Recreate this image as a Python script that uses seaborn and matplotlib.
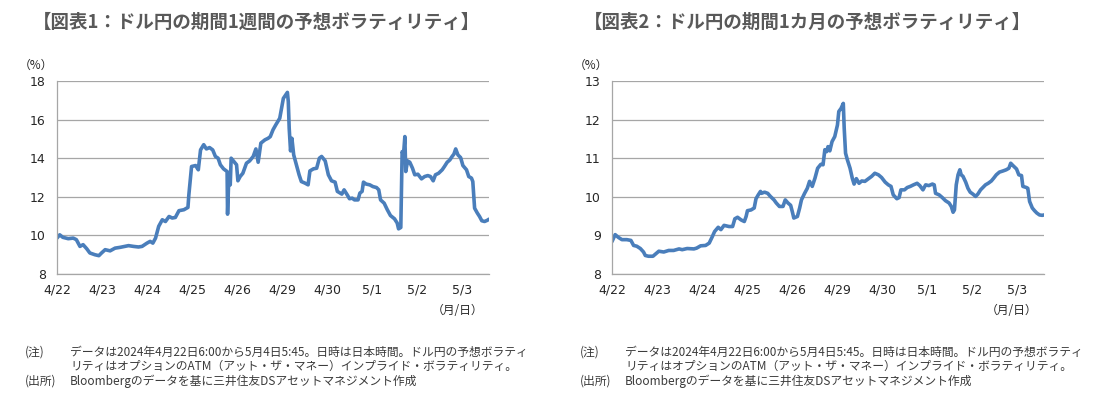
import matplotlib
matplotlib.use("Agg")
import matplotlib.pyplot as plt
import seaborn as sns
import pandas as pd

# ---- data (elapsed trading days since 4/22 6:00 JST, implied vol %) ----
tick_labels = ["4/22", "4/23", "4/24", "4/25", "4/26", "4/29", "4/30", "5/1", "5/2", "5/3"]

week_days = [0.00, 0.06, 0.13, 0.25, 0.36, 0.43, 0.51, 0.58, 0.66, 0.73, 0.84, 0.93, 0.99,
             1.07, 1.18, 1.29, 1.40, 1.51, 1.59, 1.70, 1.81, 1.89, 2.00, 2.07, 2.13, 2.19,
             2.26, 2.34, 2.41, 2.49, 2.56, 2.63, 2.71, 2.82, 2.91, 2.93, 2.99, 3.08, 3.14,
             3.19, 3.26, 3.32, 3.39, 3.46, 3.52, 3.58, 3.63, 3.70, 3.78, 3.79, 3.82, 3.85,
             3.87, 3.93, 3.99, 4.02, 4.07, 4.13, 4.21, 4.28, 4.36, 4.42, 4.47, 4.53, 4.62,
             4.69, 4.74, 4.80, 4.86, 4.95, 5.03, 5.09, 5.12, 5.14, 5.16, 5.19, 5.22, 5.26,
             5.32, 5.38, 5.43, 5.51, 5.58, 5.62, 5.70, 5.77, 5.83, 5.88, 5.96, 6.03, 6.10,
             6.18, 6.23, 6.33, 6.38, 6.45, 6.50, 6.56, 6.61, 6.69, 6.73, 6.78, 6.81, 6.87,
             6.95, 7.02, 7.10, 7.15, 7.19, 7.27, 7.34, 7.41, 7.50, 7.56, 7.59, 7.64, 7.67,
             7.70, 7.73, 7.75, 7.79, 7.84, 7.90, 7.95, 8.02, 8.10, 8.17, 8.24, 8.30, 8.36,
             8.41, 8.48, 8.56, 8.61, 8.67, 8.73, 8.78, 8.82, 8.86, 8.91, 8.97, 9.02, 9.10,
             9.15, 9.21, 9.24, 9.28, 9.34, 9.39, 9.44, 9.50, 9.56, 9.60]
week_vol = [9.86, 10.03, 9.90, 9.83, 9.86, 9.78, 9.43, 9.52, 9.31, 9.09, 9.00, 8.95, 9.09,
            9.26, 9.20, 9.34, 9.38, 9.43, 9.47, 9.43, 9.40, 9.43, 9.60, 9.69, 9.60, 9.86,
            10.47, 10.81, 10.72, 10.98, 10.90, 10.93, 11.28, 11.33, 11.45, 12.10, 13.57, 13.62, 13.40,
            14.43, 14.70, 14.48, 14.55, 14.43, 14.09, 14.00, 13.66, 13.45, 13.31, 11.10, 13.14, 12.62,
            14.00, 13.83, 13.66, 12.83, 13.05, 13.22, 13.74, 13.86, 14.09, 14.48, 13.79, 14.78, 14.95,
            15.03, 15.12, 15.47, 15.72, 16.07, 17.10, 17.31, 17.41, 16.93, 15.55, 14.38, 15.03, 14.17,
            13.66, 13.14, 12.79, 12.71, 12.62, 13.34, 13.45, 13.48, 14.00, 14.09, 13.86, 13.14, 12.83,
            12.76, 12.28, 12.14, 12.36, 12.10, 11.90, 11.93, 11.84, 11.84, 12.19, 12.28, 12.76, 12.66,
            12.62, 12.53, 12.48, 12.36, 11.84, 11.67, 11.33, 11.03, 10.86, 10.64, 10.34, 10.41, 14.34,
            14.17, 15.12, 13.31, 13.86, 13.79, 13.48, 13.14, 13.17, 12.93, 13.05, 13.10, 13.05, 12.83,
            13.14, 13.22, 13.40, 13.57, 13.79, 13.91, 14.09, 14.21, 14.48, 14.17, 14.03, 13.62, 13.40,
            13.05, 12.97, 12.79, 11.41, 11.16, 10.98, 10.76, 10.72, 10.78, 10.84]

month_days = [0.00, 0.07, 0.14, 0.22, 0.33, 0.42, 0.48, 0.55, 0.63, 0.70, 0.74, 0.81, 0.91,
              0.99, 1.04, 1.15, 1.26, 1.37, 1.49, 1.56, 1.67, 1.82, 1.88, 1.97, 2.08, 2.16,
              2.23, 2.28, 2.36, 2.42, 2.49, 2.60, 2.68, 2.73, 2.79, 2.87, 2.94, 2.98, 3.01,
              3.09, 3.16, 3.20, 3.25, 3.30, 3.32, 3.39, 3.46, 3.52, 3.60, 3.65, 3.72, 3.80,
              3.85, 3.91, 3.97, 4.01, 4.04, 4.12, 4.17, 4.21, 4.28, 4.34, 4.39, 4.45, 4.51,
              4.57, 4.64, 4.69, 4.73, 4.77, 4.80, 4.84, 4.89, 4.95, 5.01, 5.04, 5.09, 5.14,
              5.16, 5.19, 5.23, 5.29, 5.34, 5.38, 5.43, 5.49, 5.55, 5.62, 5.70, 5.77, 5.84,
              5.92, 5.99, 6.07, 6.14, 6.20, 6.25, 6.33, 6.38, 6.42, 6.50, 6.56, 6.63, 6.70,
              6.78, 6.84, 6.91, 6.97, 7.04, 7.12, 7.16, 7.19, 7.27, 7.34, 7.41, 7.49, 7.54,
              7.58, 7.61, 7.65, 7.69, 7.73, 7.76, 7.80, 7.86, 7.91, 7.96, 8.02, 8.08, 8.13,
              8.19, 8.24, 8.30, 8.36, 8.43, 8.48, 8.54, 8.61, 8.69, 8.76, 8.82, 8.86, 8.91,
              8.99, 9.04, 9.10, 9.13, 9.21, 9.24, 9.28, 9.34, 9.39, 9.44, 9.50, 9.56, 9.60]
month_vol = [8.84, 9.02, 8.95, 8.89, 8.89, 8.87, 8.74, 8.72, 8.66, 8.57, 8.48, 8.46, 8.46,
             8.54, 8.59, 8.57, 8.61, 8.61, 8.65, 8.63, 8.66, 8.65, 8.67, 8.73, 8.74, 8.80,
             8.97, 9.10, 9.21, 9.15, 9.26, 9.23, 9.23, 9.43, 9.47, 9.40, 9.36, 9.49, 9.64,
             9.66, 9.71, 9.95, 10.05, 10.14, 10.09, 10.12, 10.09, 10.01, 9.92, 9.84, 9.75, 9.75,
             9.92, 9.84, 9.78, 9.60, 9.45, 9.49, 9.71, 9.92, 10.09, 10.22, 10.40, 10.27, 10.48,
             10.74, 10.84, 10.83, 11.22, 11.17, 11.30, 11.19, 11.43, 11.56, 11.86, 12.21, 12.29, 12.42,
             11.78, 11.13, 10.96, 10.74, 10.48, 10.33, 10.47, 10.35, 10.41, 10.40, 10.47, 10.53, 10.61,
             10.57, 10.50, 10.38, 10.31, 10.27, 10.05, 9.95, 9.98, 10.18, 10.18, 10.24, 10.27, 10.31,
             10.35, 10.29, 10.18, 10.31, 10.29, 10.33, 10.31, 10.09, 10.05, 9.98, 9.90, 9.84, 9.75,
             9.60, 9.66, 10.31, 10.57, 10.70, 10.57, 10.53, 10.38, 10.22, 10.12, 10.07, 10.01, 10.07,
             10.18, 10.24, 10.31, 10.35, 10.41, 10.48, 10.57, 10.64, 10.67, 10.70, 10.74, 10.87, 10.81,
             10.72, 10.57, 10.55, 10.27, 10.24, 10.22, 9.88, 9.71, 9.64, 9.58, 9.53, 9.52, 9.53]

titles = ["【図表1：ドル円の期間1週間の予想ボラティリティ】",
          "【図表2：ドル円の期間1カ月の予想ボラティリティ】"]
y_ranges = [(8, 18, 2), (8, 13, 1)]
note_lines = ["データは2024年4月22日6:00から5月4日5:45。日時は日本時間。ドル円の予想ボラティ",
              "リティはオプションのATM（アット・ザ・マネー）インプライド・ボラティリティ。",
              "Bloombergのデータを基に三井住友DSアセットマネジメント作成"]

# ---- styling ----
sns.set_theme(style="white")
plt.rcParams["font.family"] = ["DejaVu Sans", "Noto Sans CJK JP"]
JP = ["Noto Sans CJK JP", "DejaVu Sans"]
LINE = "#4a7ebb"
GRID = "#a6a6a6"
TXT = "#262626"
NOTE = "#3a3a3a"

W, H = 1100, 397
fig = plt.figure(figsize=(W / 100, H / 100), dpi=100)
fig.patch.set_facecolor("white")

panels = [
    dict(df=pd.DataFrame({"day": week_days, "vol": week_vol}), left=57, right=489,
         title_x=33, pct_x=36, unit_x=458, note_x=25),
    dict(df=pd.DataFrame({"day": month_days, "vol": month_vol}), left=612, right=1044,
         title_x=584, pct_x=591, unit_x=1012, note_x=580),
]
top, bottom = 81, 274

for i, p in enumerate(panels):
    ax = fig.add_axes([p["left"] / W, 1 - bottom / H, (p["right"] - p["left"]) / W, (bottom - top) / H])
    sns.lineplot(data=p["df"], x="day", y="vol", ax=ax, color=LINE, linewidth=2.6,
                 sort=False, estimator=None)
    lo, hi, step = y_ranges[i]
    ax.set_ylim(lo, hi)
    ax.set_yticks(list(range(lo, hi + 1, step)))
    ax.set_xlim(0, 9.6)
    ax.set_xticks(list(range(len(tick_labels))))
    ax.set_xticklabels(tick_labels)
    ax.set_xlabel("")
    ax.set_ylabel("")
    ax.yaxis.grid(True, color=GRID, linewidth=0.9)
    ax.xaxis.grid(False)
    for s in ["top", "right"]:
        ax.spines[s].set_visible(False)
    for s in ["left", "bottom"]:
        ax.spines[s].set_color(GRID)
        ax.spines[s].set_linewidth(0.9)
    ax.tick_params(axis="y", length=0, pad=8, labelsize=9, labelcolor=TXT)
    ax.tick_params(axis="x", direction="in", length=3.5, width=0.9, color=GRID,
                   pad=7, labelsize=9, labelcolor=TXT)
    ax.set_axisbelow(True)

    fig.text(p["title_x"] / W, 1 - 22 / H, titles[i], family=JP, fontsize=13.3,
             fontweight="bold", color="#595959", ha="left", va="center")
    fig.text(p["pct_x"] / W, 1 - 65 / H, "（%）", family=JP, fontsize=8.5,
             color=TXT, ha="center", va="center")
    fig.text(p["unit_x"] / W, 1 - 311 / H, "（月/日）", family=JP, fontsize=8.5,
             color=TXT, ha="center", va="center")
    nx = p["note_x"]
    fs = 8.5
    fig.text(nx / W, 1 - 352 / H, "(注)", family=JP, fontsize=fs, color=NOTE, va="center")
    fig.text((nx + 45) / W, 1 - 352 / H, note_lines[0], family=JP, fontsize=fs, color=NOTE, va="center")
    fig.text((nx + 45) / W, 1 - 366 / H, note_lines[1], family=JP, fontsize=fs, color=NOTE, va="center")
    fig.text(nx / W, 1 - 381 / H, "(出所)", family=JP, fontsize=fs, color=NOTE, va="center")
    fig.text((nx + 45) / W, 1 - 381 / H, note_lines[2], family=JP, fontsize=fs, color=NOTE, va="center")

fig.savefig("out.png", dpi=100, facecolor="white")
